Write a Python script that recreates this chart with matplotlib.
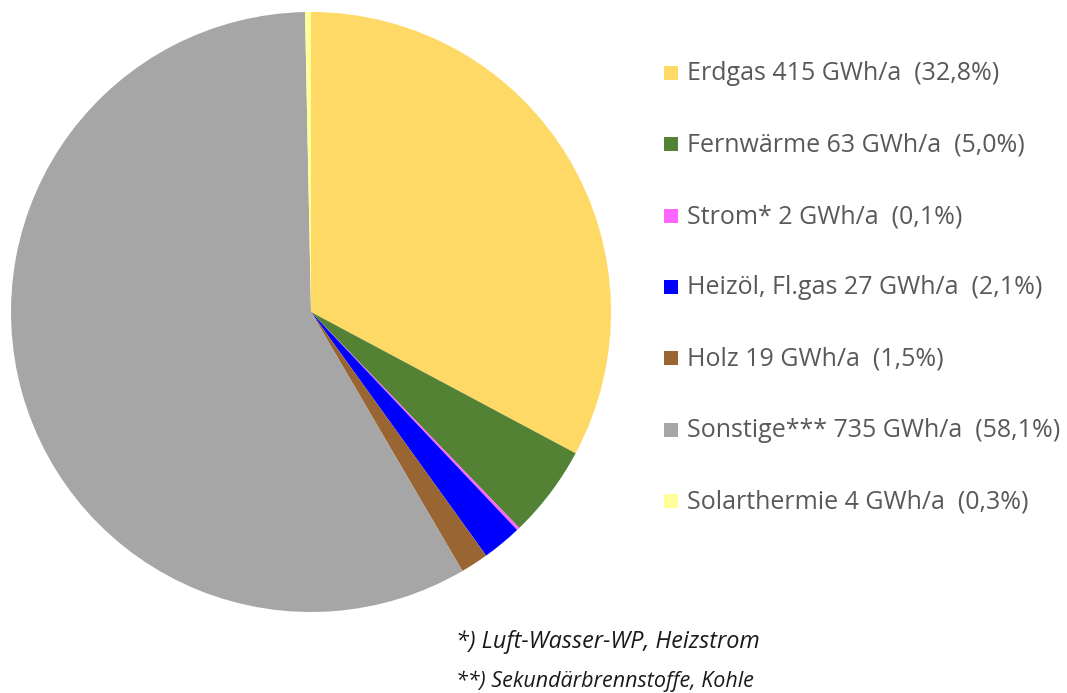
import matplotlib
matplotlib.use("Agg")
import matplotlib.pyplot as plt
from matplotlib.patches import Rectangle

labels = ["Erdgas 415 GWh/a  (32,8%)", "Fernwärme 63 GWh/a  (5,0%)", "Strom* 2 GWh/a  (0,1%)",
          "Heizöl, Fl.gas 27 GWh/a  (2,1%)", "Holz 19 GWh/a  (1,5%)",
          "Sonstige*** 735 GWh/a  (58,1%)", "Solarthermie 4 GWh/a  (0,3%)"]
values = [415, 63, 2, 27, 19, 735, 4]
colors = ["#FFD966", "#548235", "#FF66FF", "#0000FF", "#996633", "#A6A6A6", "#FFFF99"]
footnotes = ["*) Luft-Wasser-WP, Heizstrom", "**) Sekundärbrennstoffe, Kohle"]

W, H = 1067, 693
fig = plt.figure(figsize=(W / 100, H / 100), dpi=100)
ax = fig.add_axes([11 / W, (H - 612) / H, 600 / W, 600 / H])
ax.pie(values, colors=colors, startangle=90, counterclock=False, radius=1,
       wedgeprops=dict(linewidth=0))
ax.set_xlim(-1, 1)
ax.set_ylim(-1, 1)
ax.set_aspect("equal")
ax.axis("off")

font = "Open Sans"
y0, pitch = 73, 71.3
for i, (lab, c) in enumerate(zip(labels, colors)):
    yc = y0 + i * pitch
    fig.patches.append(Rectangle((664 / W, (H - yc - 7) / H), 14 / W, 14 / H,
                                 transform=fig.transFigure, facecolor=c, edgecolor="none"))
    fig.text(687 / W, (H - yc - 1) / H, lab, fontsize=18, family=font, color="#595959",
             va="center", ha="left")

fig.text(456 / W, (H - 642) / H, footnotes[0], fontsize=16.8, family=font, style="italic",
         color="#1a1a1a", va="center", ha="left")
fig.text(456 / W, (H - 681) / H, footnotes[1], fontsize=15.5, family=font, style="italic",
         color="#1a1a1a", va="center", ha="left")

fig.savefig("out.png", dpi=100, facecolor="white")
